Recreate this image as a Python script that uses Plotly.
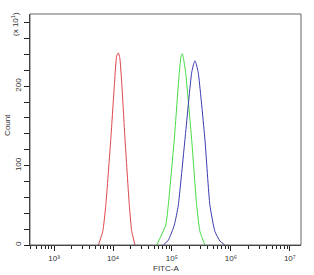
import plotly.graph_objects as go

# FITC-A intensity values and counts (x10^1)
red_x = [5640, 6680, 7520, 9140, 10600, 11500, 12300, 13000, 14000, 15960, 18880, 20750, 23600]
red_y = [0, 17, 50, 133, 205, 238, 242, 236, 205, 133, 50, 17, 0]

green_x = [55080, 78160, 86500, 109400, 133000, 143000, 149600, 156000, 170600, 215800, 262400, 298500, 362200]
green_y = [0, 25, 50, 133, 217, 238, 241, 236, 217, 133, 50, 17, 0]

blue_x = [71290, 86500, 109400, 127900, 166000, 215800, 235000, 245500, 256000, 279300, 362200, 440600, 535800, 651600, 790700]
blue_y = [0, 6, 25, 50, 133, 217, 229, 232, 229, 217, 133, 50, 17, 5, 0]

x_tickvals = [1e3, 1e4, 1e5, 1e6, 1e7]
x_ticktext = ["10³", "10⁴", "10⁵", "10⁶", "10⁷"]
y_tickvals = [0, 100, 200]

fig = go.Figure()
for xs, ys, col in [(red_x, red_y, "#e0474c"), (green_x, green_y, "#44dd44"), (blue_x, blue_y, "#3b3bb0")]:
    fig.add_trace(go.Scatter(x=xs, y=ys, mode="lines", line=dict(color=col, width=1, shape="spline", smoothing=0.5),
                             showlegend=False, hoverinfo="skip"))

minor_vals = [k * 10 ** n for n in range(2, 8) for k in range(2, 10)]

font = dict(family="Liberation Sans, Arial, sans-serif", size=9, color="#333")
tfont = dict(family="Liberation Sans, Arial, sans-serif", size=8, color="#333")

fig.update_layout(
    width=314, height=275,
    margin=dict(l=30, r=13, t=14, b=28),
    plot_bgcolor="white", paper_bgcolor="white",
    font=font,
    xaxis=dict(type="log", range=[2.59, 7.19], tickvals=x_tickvals, ticktext=x_ticktext,
               ticks="outside", ticklen=5, tickcolor="#222", showgrid=False, zeroline=False,
               showline=True, linecolor="#222", linewidth=1, tickfont=tfont,
               minor=dict(tickvals=minor_vals, ticks="outside", ticklen=3, tickcolor="#222")),
    yaxis=dict(range=[0, 291], tickvals=y_tickvals, ticks="outside", ticklen=5, tickcolor="#222",
               tickangle=-90, showgrid=False, zeroline=False, showline=True, linecolor="#222",
               linewidth=1, tickfont=tfont,
               minor=dict(dtick=20, ticks="outside", ticklen=5, tickcolor="#222")),
    shapes=[dict(type="rect", xref="paper", yref="paper", x0=0, x1=1, y0=0, y1=1,
                 line=dict(color="#666", width=1))],
    annotations=[
        dict(text="FITC-A", xref="paper", yref="paper", x=0.5, y=0, yshift=-23, showarrow=False,
             font=tfont, xanchor="center", yanchor="middle"),
        dict(text="Count", xref="paper", yref="paper", x=0, xshift=-22, y=0.52, showarrow=False,
             font=tfont, textangle=-90, xanchor="center", yanchor="middle"),
        dict(text="(x 10<sup>1</sup>)", xref="paper", yref="paper", x=0, xshift=-15, y=1, yshift=4,
             showarrow=False, font=tfont, textangle=-90, xanchor="center", yanchor="top"),
    ],
)

fig.write_html("out.html")
